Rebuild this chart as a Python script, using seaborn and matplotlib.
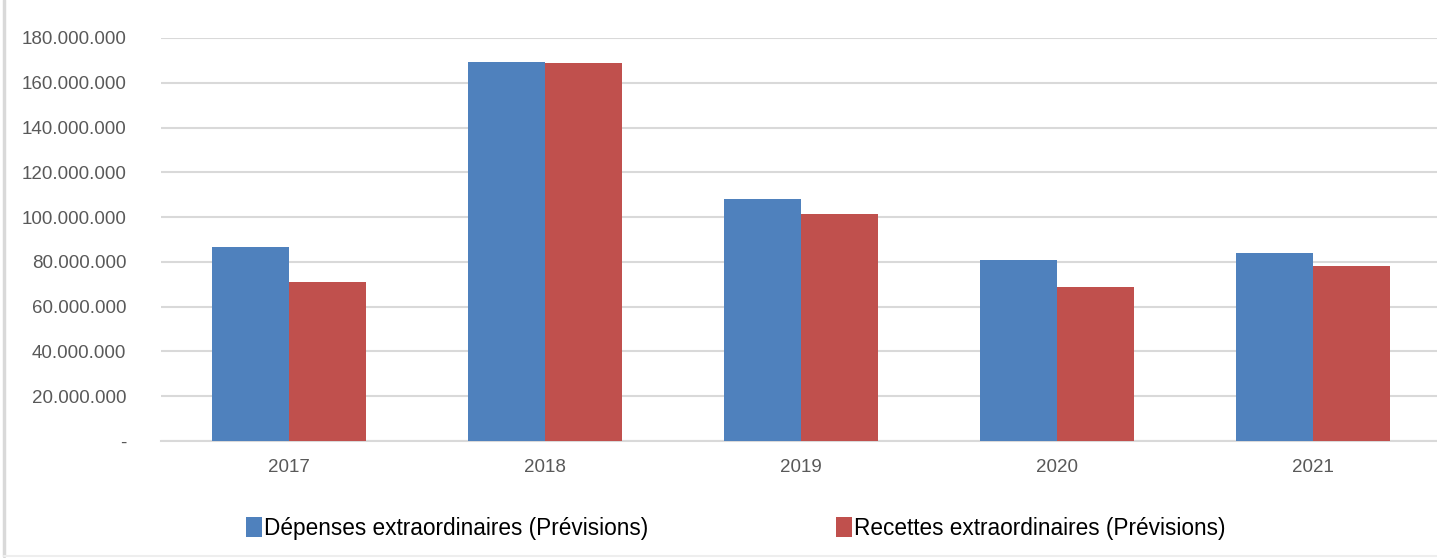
import pandas as pd
import seaborn as sns
import matplotlib.pyplot as plt
from matplotlib.ticker import FuncFormatter
from matplotlib.lines import Line2D

# Values
years = ["2017", "2018", "2019", "2020", "2021"]
depenses = [86.6e6, 169.3e6, 108.1e6, 80.9e6, 83.9e6]
recettes = [71.1e6, 168.7e6, 101.3e6, 68.7e6, 78.0e6]
series_names = ["Dépenses extraordinaires (Prévisions)",
                "Recettes extraordinaires (Prévisions)"]
colors = ["#4F81BD", "#C0504D"]

df = pd.DataFrame({
    "year": years * 2,
    "value": depenses + recettes,
    "serie": [series_names[0]] * len(years) + [series_names[1]] * len(years),
})

sns.set_style("white")
plt.rcParams['font.family'] = ['Liberation Sans', 'DejaVu Sans']

fig = plt.figure(figsize=(14.37, 5.58), dpi=100)
# plot area runs past the right edge of the image, as in the original
ax = fig.add_axes([161 / 1437, 117 / 558, 1280 / 1437, 403 / 558])

sns.barplot(data=df, x="year", y="value", hue="serie", palette=colors,
            width=0.6, saturation=1, linewidth=0, ax=ax, legend=True, zorder=3)

ax.set_xlim(-0.5, 4.5)
ax.set_ylim(0, 180e6)
ax.set_yticks(range(0, 180000001, 20000000))


def fmt(v, pos):
    if v == 0:
        return "-"
    return f"{int(v):,}".replace(",", ".")


ax.yaxis.set_major_formatter(FuncFormatter(fmt))
ax.grid(axis="y", color="#D9D9D9", linewidth=1.5, zorder=0)
ax.set_axisbelow(True)
for s in ["top", "right", "left"]:
    ax.spines[s].set_visible(False)
ax.spines["bottom"].set_color("#D9D9D9")
ax.spines["bottom"].set_linewidth(1.5)
ax.set_xlabel("")
ax.set_ylabel("")
ax.tick_params(axis="both", length=0, labelsize=13.5, labelcolor="#595959")
ax.tick_params(axis="y", pad=25)
ax.tick_params(axis="x", pad=13)

handles, labels = ax.get_legend_handles_labels()
ax.get_legend().remove()
fig.legend(handles, labels, loc="center", bbox_to_anchor=(736 / 1437, 1 - 528 / 558),
           ncol=2, frameon=False, fontsize=16.3, handlelength=0.7, handleheight=1.0,
           handletextpad=0.1, columnspacing=8.3, labelcolor="black")

# light frame lines on the left and bottom of the image
fig.add_artist(Line2D([0.0028, 0.0028], [0.004, 1], transform=fig.transFigure,
                      color="#D9D9D9", linewidth=2.5))
fig.add_artist(Line2D([0.0028, 1], [0.004, 0.004], transform=fig.transFigure,
                      color="#EEEEEE", linewidth=1.5))

fig.savefig("out.png", dpi=100)
